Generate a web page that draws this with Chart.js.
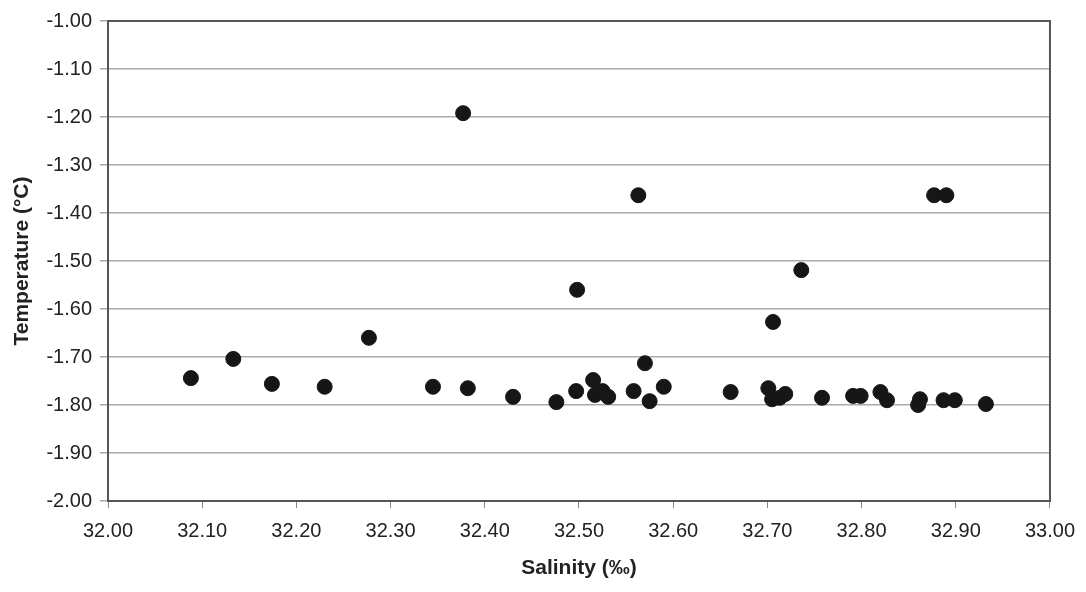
<!DOCTYPE html>
<html lang="en">
<head>
<meta charset="UTF-8">
<title>Temperature vs Salinity</title>
<script src="https://cdn.jsdelivr.net/npm/chart.js"></script>
<style>
    html, body { margin: 0; padding: 0; background: #fff; }
    #wrap { width: 1086px; height: 592px; }
</style>
</head>
<body>
<div id="wrap"><canvas id="tsChart" width="1086" height="592"></canvas></div>
<script>
// Salinity (‰) and temperature (°C)
const salinity = [
    32.088, 32.133, 32.174, 32.230, 32.277, 32.345, 32.382, 32.430, 32.476, 32.497,
    32.515, 32.517, 32.525, 32.531, 32.558, 32.570, 32.575, 32.590, 32.661, 32.701,
    32.705, 32.713, 32.719, 32.758, 32.791, 32.799, 32.820, 32.827, 32.860, 32.862,
    32.887, 32.899, 32.932, 32.377, 32.563, 32.498, 32.736, 32.706, 32.877, 32.890
];
const temperature = [
    -1.744, -1.704, -1.756, -1.762, -1.660, -1.762, -1.765, -1.783, -1.794, -1.771,
    -1.748, -1.779, -1.771, -1.783, -1.771, -1.713, -1.792, -1.762, -1.773, -1.765,
    -1.788, -1.785, -1.777, -1.785, -1.781, -1.781, -1.773, -1.790, -1.800, -1.788,
    -1.790, -1.790, -1.798, -1.192, -1.363, -1.560, -1.519, -1.627, -1.363, -1.363
];

const points = salinity.map((s, i) => ({ x: s, y: temperature[i] }));

// box round the plot area
const frame = {
    id: "frame",
    afterDraw(chart) {
        const a = chart.chartArea, c = chart.ctx;
        c.save();
        c.strokeStyle = "#555";
        c.lineWidth = 2;
        c.strokeRect(a.left, a.top, a.right - a.left, a.bottom - a.top);
        c.restore();
    }
};

const tickFont = { family: "'Liberation Sans', Arial, sans-serif", size: 20 };
const titleFont = { family: "'Liberation Sans', Arial, sans-serif", size: 21, weight: "bold" };

new Chart(document.getElementById("tsChart"), {
    type: "scatter",
    data: {
        datasets: [{
            data: points,
            backgroundColor: "#161616",
            borderColor: "#161616",
            pointRadius: 7.5,
            pointHoverRadius: 7.5
        }]
    },
    options: {
        responsive: false,
        animation: false,
        layout: { padding: { top: 21, right: 36, left: 0, bottom: 0 } },
        plugins: { legend: { display: false }, tooltip: { enabled: false } },
        scales: {
            x: {
                min: 32, max: 33,
                ticks: {
                    stepSize: 0.1, color: "#222", font: tickFont, padding: 11,
                    maxRotation: 0, autoSkip: false,
                    callback: v => v.toFixed(2)
                },
                grid: { drawOnChartArea: false, color: "#888", tickLength: 7 },
                border: { color: "#555", width: 2 },
                title: { display: true, text: "Salinity (‰)", color: "#222", font: titleFont, padding: { top: 0, bottom: 11 } },
                afterFit: s => { s.height = 91; }
            },
            y: {
                min: -2, max: -1,
                ticks: {
                    stepSize: 0.1, color: "#222", font: tickFont, padding: 8,
                    callback: v => v.toFixed(2)
                },
                grid: { color: "#aaa", lineWidth: 1.5, tickLength: 8 },
                border: { color: "#555", width: 2 },
                title: { display: true, text: "Temperature (°C)", color: "#222", font: titleFont, padding: { top: 10, bottom: 0 } },
                afterFit: s => { s.width = 108; }
            }
        }
    },
    plugins: [frame]
});
</script>
</body>
</html>
